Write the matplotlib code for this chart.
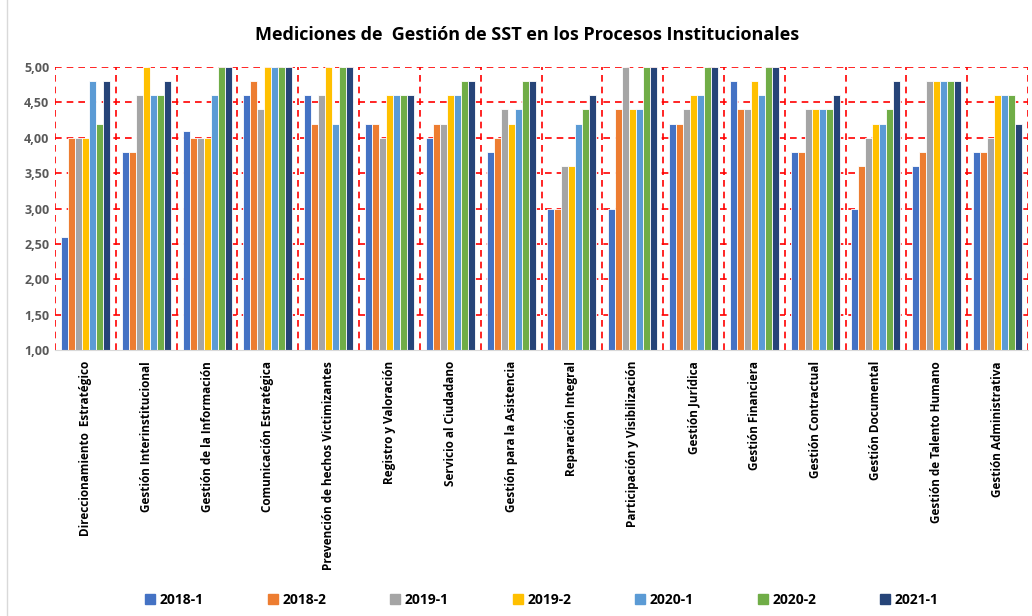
import matplotlib
matplotlib.use("Agg")
import matplotlib.pyplot as plt
import numpy as np
from matplotlib.lines import Line2D

plt.rcParams['font.family'] = ['Open Sans', 'DejaVu Sans']

categories = ["Direccionamiento  Estratégico", "Gestión Interinstitucional", "Gestión de la Información",
              "Comunicación Estratégica", "Prevención de hechos Victimizantes", "Registro y Valoración",
              "Servicio al Ciudadano", "Gestión para la Asistencia", "Reparación Integral",
              "Participación y Visibilización", "Gestión Jurídica", "Gestión Financiera",
              "Gestión Contractual", "Gestión Documental", "Gestión de Talento Humano",
              "Gestión Administrativa"]
series_names = ["2018-1", "2018-2", "2019-1", "2019-2", "2020-1", "2020-2", "2021-1"]

s2018_1 = [2.6, 3.8, 4.1, 4.6, 4.6, 4.2, 4.0, 3.8, 3.0, 3.0, 4.2, 4.8, 3.8, 3.0, 3.6, 3.8]
s2018_2 = [4.0, 3.8, 4.0, 4.8, 4.2, 4.2, 4.2, 4.0, 3.0, 4.4, 4.2, 4.4, 3.8, 3.6, 3.8, 3.8]
s2019_1 = [4.0, 4.6, 4.0, 4.4, 4.6, 4.0, 4.2, 4.4, 3.6, 5.0, 4.4, 4.4, 4.4, 4.0, 4.8, 4.0]
s2019_2 = [4.0, 5.0, 4.0, 5.0, 5.0, 4.6, 4.6, 4.2, 3.6, 4.4, 4.6, 4.8, 4.4, 4.2, 4.8, 4.6]
s2020_1 = [4.8, 4.6, 4.6, 5.0, 4.2, 4.6, 4.6, 4.4, 4.2, 4.4, 4.6, 4.6, 4.4, 4.2, 4.8, 4.6]
s2020_2 = [4.2, 4.6, 5.0, 5.0, 5.0, 4.6, 4.8, 4.8, 4.4, 5.0, 5.0, 5.0, 4.4, 4.4, 4.8, 4.6]
s2021_1 = [4.8, 4.8, 5.0, 5.0, 5.0, 4.6, 4.8, 4.8, 4.6, 5.0, 5.0, 5.0, 4.6, 4.8, 4.8, 4.2]
series = [s2018_1, s2018_2, s2019_1, s2019_2, s2020_1, s2020_2, s2021_1]
colors = ["#4472C4", "#ED7D31", "#A5A5A5", "#FFC000", "#5B9BD5", "#70AD47", "#264478"]

W, H = 1032, 616
fig = plt.figure(figsize=(W/100, H/100), dpi=100)
ax = fig.add_axes([55/W, 1-350/H, (1028-55)/W, (350-67)/H])

n = len(categories)
x = np.arange(n)
bw = 0.115
for i, (vals, c) in enumerate(zip(series, colors)):
    offs = (i - 3) * bw
    ax.bar(x + offs, np.array(vals) - 1.0, bottom=1.0, width=bw, color=c,
           edgecolor="white", linewidth=0.6, zorder=3, label=series_names[i])

ax.set_xlim(-0.5, n - 0.5)
ax.set_ylim(1.0, 5.0)
yt = np.arange(1.0, 5.01, 0.5)
ax.set_yticks(yt)
ax.set_yticklabels([f"{v:.2f}".replace('.', ',') for v in yt], color="#595959",
                   fontsize=9, fontweight='bold')
ax.set_xticks(x)
ax.set_xticklabels(categories, rotation=90, fontsize=8.5, fontweight='bold', va='top')
ax.tick_params(axis='both', length=0)
ax.tick_params(axis='y', pad=4)
ax.tick_params(axis='x', pad=8)

# grid
for yv in yt[1:]:
    ax.axhline(yv, color="#FF0000", lw=1.2, ls=(0, (4, 3)), zorder=1)
for xb in np.arange(-0.5, n + 0.5, 1.0):
    ax.axvline(xb, color="#FF0000", lw=1.2, ls=(0, (4, 3)), zorder=1)

for s in ['top', 'right', 'left']:
    ax.spines[s].set_visible(False)
ax.spines['bottom'].set_color("#D9D9D9")
ax.spines['bottom'].set_zorder(4)

fig.text(527/W, 1-35/H, "Mediciones de  Gestión de SST en los Procesos Institucionales",
         ha='center', va='center', fontsize=13, fontweight='bold')

handles = [Line2D([0], [0], marker='s', ls='', markersize=7, markerfacecolor=c,
                  markeredgecolor=c) for c in colors]
fig.legend(handles, series_names, loc='center', bbox_to_anchor=(541/W, 1-600/H), ncol=7,
           frameon=False, columnspacing=4.45, handletextpad=0.2, handlelength=1.0,
           prop={'size': 10, 'weight': 'bold'})

fig.add_artist(Line2D([7/W, 7/W], [0, 1], color="#D9D9D9", lw=1))

fig.savefig("out.png", dpi=100)
